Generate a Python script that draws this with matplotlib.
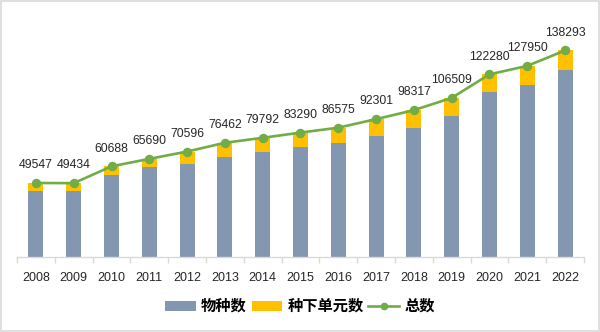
import matplotlib
matplotlib.use('Agg')
import matplotlib.pyplot as plt
from matplotlib.patches import Patch
from matplotlib.lines import Line2D
import numpy as np

plt.rcParams['font.family'] = ['Liberation Sans', 'Noto Sans CJK SC', 'DejaVu Sans']

# data
years = ['2008', '2009', '2010', '2011', '2012', '2013', '2014', '2015',
         '2016', '2017', '2018', '2019', '2020', '2021', '2022']
totals = [49547, 49434, 60688, 65690, 70596, 76462, 79792, 83290,
          86575, 92301, 98317, 106509, 122280, 127950, 138293]
species = [44000, 43900, 54700, 60000, 62100, 67000, 70150, 73700,
           76600, 81000, 86100, 94260, 110486, 115064, 125034]
subspecies = [t - s for t, s in zip(totals, species)]

c_species = '#8497B0'
c_sub = '#FFC000'
c_line = '#70AD47'

W, H = 600, 332
fig = plt.figure(figsize=(W / 100, H / 100), dpi=100)
fig.patch.set_facecolor('white')
fig.patches.append(plt.Rectangle((0.002, 0.003), 0.996, 0.994, transform=fig.transFigure,
                                 fill=False, edgecolor='#D9D9D9', linewidth=1.2))

ax = fig.add_axes([17 / W, 1 - 257 / H, (584 - 17) / W, (257 - 18) / H])
x = np.arange(len(years))

ax.bar(x, species, width=0.4, color=c_species, zorder=2)
ax.bar(x, subspecies, width=0.4, bottom=species, color=c_sub, zorder=2)
ax.plot(x, totals, color=c_line, linewidth=1.9, marker='o', markersize=5.8, zorder=3)

for xi, t in zip(x, totals):
    ax.annotate(str(t), (xi, t), xytext=(0, 8.5), textcoords='offset points',
                ha='center', va='bottom', fontsize=8.8, color='#262626', zorder=4)

ax.set_xlim(-0.5, len(years) - 0.5)
ax.set_ylim(0, 160000)
ax.set_yticks([])
for s in ['top', 'right', 'left']:
    ax.spines[s].set_visible(False)
ax.spines['bottom'].set_color('#D9D9D9')
ax.spines['bottom'].set_linewidth(1)

ax.set_xticks(x)
ax.set_xticklabels(years, fontsize=9, color='#262626')
ax.tick_params(axis='x', which='major', length=0, pad=10.5)
ax.set_xticks(np.arange(-0.5, len(years), 1), minor=True)
ax.tick_params(axis='x', which='minor', length=4, color='#D9D9D9', width=1)

handles = [Patch(facecolor=c_species), Patch(facecolor=c_sub),
           Line2D([0], [0], color=c_line, linewidth=1.9, marker='o', markersize=4.5)]
labels = ['物种数', '种下单元数', '总数']
fig.legend(handles, labels, loc='center', bbox_to_anchor=(300 / W, 1 - 306 / H),
           ncol=3, frameon=False, handlelength=2.0, handleheight=0.65,
           handletextpad=0.35, columnspacing=0.3,
           prop={'family': ['Noto Sans CJK SC', 'DejaVu Sans'], 'weight': 'bold', 'size': 11})

fig.savefig('out.png', dpi=100, facecolor='white')
